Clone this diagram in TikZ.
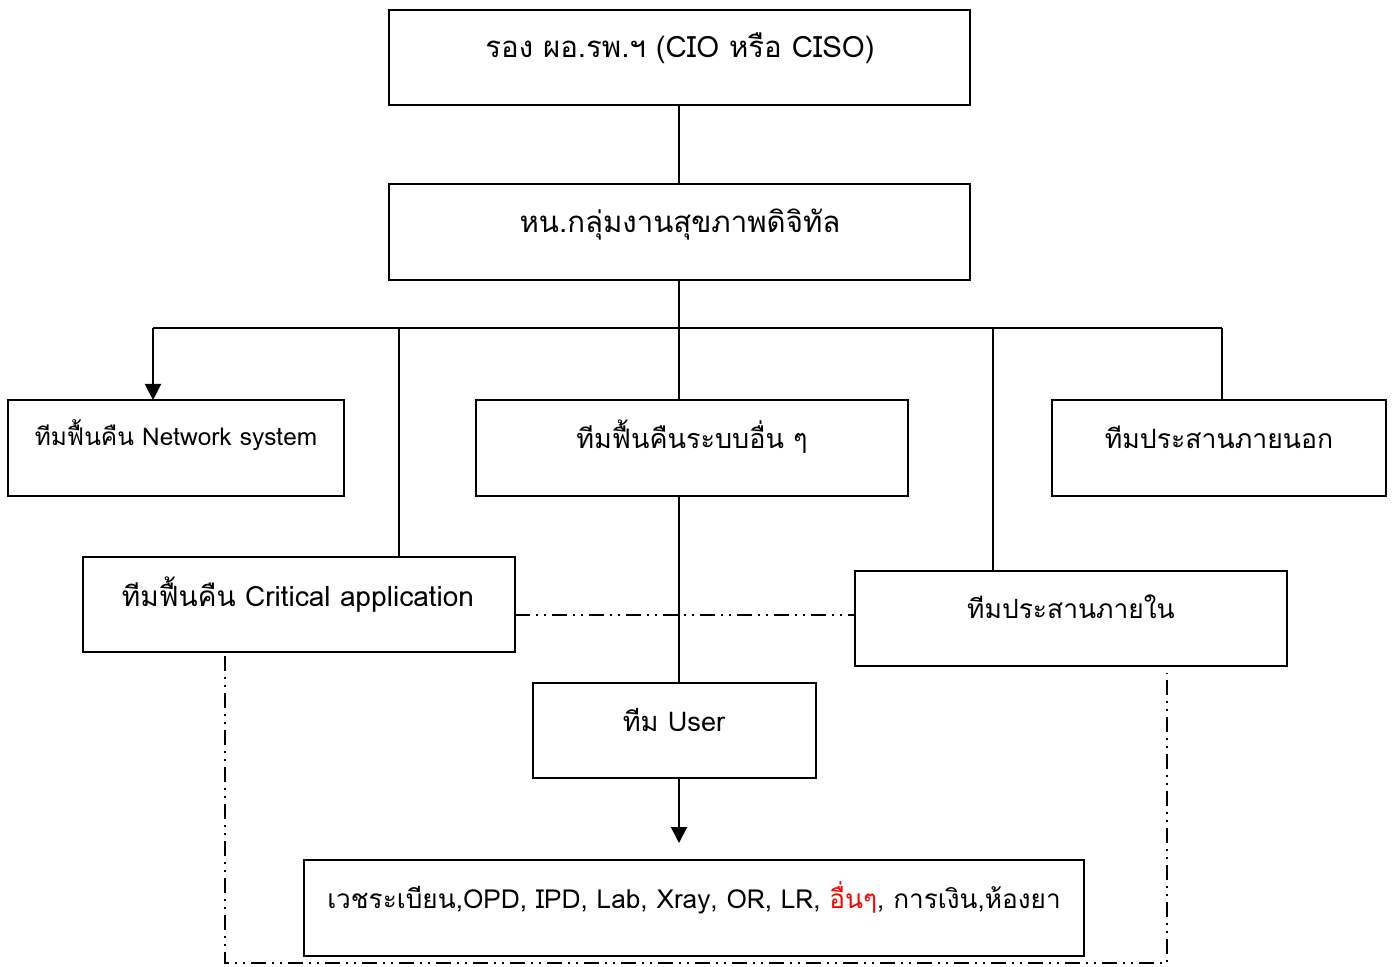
\documentclass[tikz,border=0pt]{standalone}
\usepackage{fontspec}
\newfontfamily\thaifont[Script=Thai]{Loma}
\usetikzlibrary{arrows.meta}
\begin{document}
\begin{tikzpicture}[x=0.5pt,y=-0.5pt,
  box/.style={draw,line width=1pt,rectangle,inner sep=0pt,outer sep=0pt},
  lbl/.style={font=\thaifont\fontsize{#1}{16}\selectfont,inner sep=0pt},
  lbl/.default=13.3,
  conn/.style={line width=1pt},
  arr/.style={line width=1pt,-{Triangle[length=8pt,width=8pt]}},
  dd/.style={line width=0.9pt,dash pattern=on 7.5pt off 3pt on 1pt off 3pt on 1pt off 3pt}]
\useasboundingbox (0,0) rectangle (1395,967);
\fill[white] (0,0) rectangle (1395,967);
% boxes
\node[box,minimum width=290.5pt,minimum height=47.5pt] (top) at (679.5,57.5) {};
\node[box,minimum width=290.5pt,minimum height=48pt] (second) at (679.5,232) {};
\node[box,minimum width=168pt,minimum height=48pt] (net) at (176,448) {};
\node[box,minimum width=216pt,minimum height=48pt] (mid) at (692,448) {};
\node[box,minimum width=167pt,minimum height=48pt] (ext) at (1219,448) {};
\node[box,minimum width=216pt,minimum height=47.5pt] (crit) at (299,604.5) {};
\node[box,minimum width=216pt,minimum height=47.5pt] (int) at (1071,618.5) {};
\node[box,minimum width=141.5pt,minimum height=47.5pt] (user) at (674.5,730.5) {};
\node[box,minimum width=390pt,minimum height=48pt] (bottom) at (694,908) {};
% texts
\node[lbl=14.7] (topt) at (680,48) {รอง ผอ.รพ.ฯ (CIO หรือ CISO)};
\node[lbl=14.7] (secondt) at (680,225) {หน.กลุ่มงานสุขภาพดิจิทัล};
\node[lbl=12.2] (nett) at (176,435) {ทีมฟื้นคืน Network system};
\node[lbl=13.5] (midt) at (692,437) {ทีมฟื้นคืนระบบอื่น ๆ};
\node[lbl=13.3] (extt) at (1219,437) {ทีมประสานภายนอก};
\node[lbl=14] (critt) at (298,595) {ทีมฟื้นคืน Critical application};
\node[lbl=13.2] (intt) at (1071,607) {ทีมประสานภายใน};
\node[lbl=13.6] (usert) at (674,720) {ทีม User};
\node[lbl=13.1] (bottomt) at (694,898) {เวชระเบียน,OPD, IPD, Lab, Xray, OR, LR, \textcolor{red}{อื่นๆ}, การเงิน,ห้องยา};
% coordinates
\coordinate (busL) at (153,328);
\coordinate (busR) at (1222,328);
\coordinate (b2) at (399,328);
\coordinate (b4) at (993,328);
\coordinate (axis) at (679,0);
\coordinate (ddy) at (0,615);
\coordinate (arrEnd) at (679,843);
\coordinate (lp1) at (225,656);
\coordinate (lp2) at (225,963);
\coordinate (lp3) at (1167,963);
\coordinate (lp4) at (1167,673);
% connectors
\draw[conn] (top.south -| axis) -- (second.north -| axis);
\draw[conn] (second.south -| axis) -- (mid.north -| axis);
\draw[conn] (busL) -- (busR);
\draw[arr] (busL) -- (busL |- net.north);
\draw[conn] (b2) -- (b2 |- crit.north);
\draw[conn] (b4) -- (b4 |- int.north);
\draw[conn] (busR) -- (busR |- ext.north);
\draw[conn] (mid.south -| axis) -- (user.north -| axis);
\draw[arr] (user.south -| arrEnd) -- (arrEnd);
\draw[dd] (crit.east |- ddy) -- (int.west |- ddy);
\draw[dd] (lp1) -- (lp2) -- (lp3) -- (lp4);
\end{tikzpicture}
\end{document}
